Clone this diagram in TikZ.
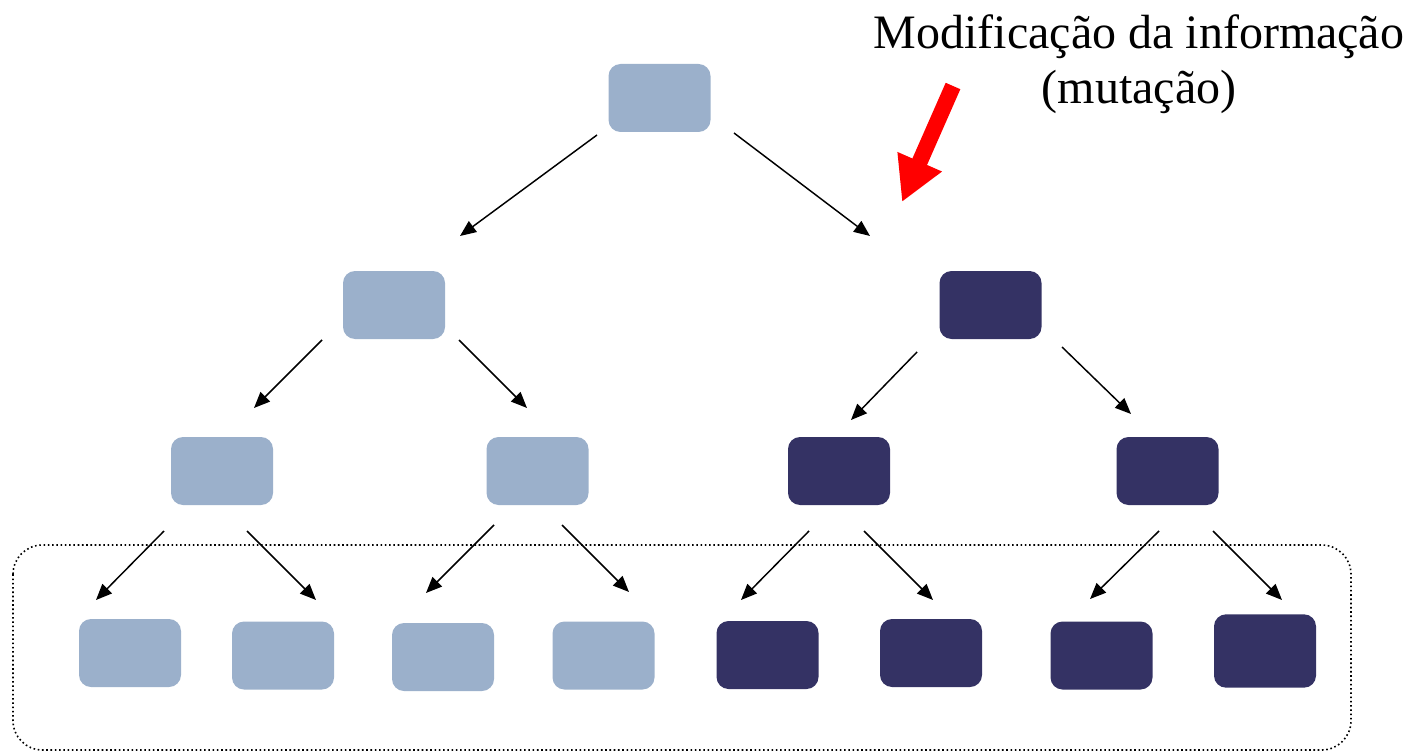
\documentclass[tikz,border=0pt]{standalone}
\usepackage{fontspec}
\setmainfont{Liberation Serif}
\usetikzlibrary{arrows.meta}
\definecolor{lightblue}{HTML}{9BB0CB}
\definecolor{darkblue}{HTML}{343264}
\definecolor{mutred}{HTML}{FF0000}
\begin{document}
\begin{tikzpicture}[x=0.75pt,y=-0.75pt,
  cell/.style={rectangle, rounded corners=9pt, minimum width=76.5pt, minimum height=51pt, inner sep=0pt, draw=none},
  orig/.style={cell, fill=lightblue},
  mut/.style={cell, fill=darkblue},
  link/.style={line width=1.1pt, -{Triangle[length=12pt,width=10pt]}},
  frame/.style={dotted, line width=1.2pt, rounded corners=22pt}
]
\useasboundingbox (0,0) rectangle (1416,752);

% generation 0
\node[orig] (g0) at (659.5,98) {};
% generation 1
\node[orig] (g1a) at (394,305) {};
\node[mut]  (g1b) at (990.5,305) {};
% generation 2
\node[orig] (g2a) at (222,471) {};
\node[orig] (g2b) at (537.5,471) {};
\node[mut]  (g2c) at (839,471) {};
\node[mut]  (g2d) at (1167.5,471) {};
% generation 3
\node[orig] (g3a) at (130,653) {};
\node[orig] (g3b) at (283,655.5) {};
\node[orig] (g3c) at (443,657) {};
\node[orig] (g3d) at (603.5,655.5) {};
\node[mut]  (g3e) at (767.5,655) {};
\node[mut]  (g3f) at (931,653) {};
\node[mut]  (g3g) at (1101.5,655.5) {};
\node[mut,minimum height=55pt] (g3h) at (1265,651) {};

% arrow end points
\coordinate (a1s) at (597,135);  \coordinate (a1e) at (460,236);
\coordinate (a2s) at (734,133);  \coordinate (a2e) at (870,236);
\coordinate (b1s) at (322,340);  \coordinate (b1e) at (254,408);
\coordinate (b2s) at (459,340);  \coordinate (b2e) at (527,408);
\coordinate (b3s) at (917,352);  \coordinate (b3e) at (851,420);
\coordinate (b4s) at (1062,347); \coordinate (b4e) at (1131,414);
\coordinate (c1s) at (164,531);  \coordinate (c1e) at (96,600);
\coordinate (c2s) at (247,531);  \coordinate (c2e) at (316,600);
\coordinate (c3s) at (494,525);  \coordinate (c3e) at (426,593);
\coordinate (c4s) at (562,525);  \coordinate (c4e) at (629,592);
\coordinate (c5s) at (809,531);  \coordinate (c5e) at (741,600);
\coordinate (c6s) at (864,531);  \coordinate (c6e) at (933,600);
\coordinate (c7s) at (1159,531); \coordinate (c7e) at (1090,599);
\coordinate (c8s) at (1213,531); \coordinate (c8e) at (1282,600);

\foreach \a in {a1,a2,b1,b2,b3,b4,c1,c2,c3,c4,c5,c6,c7,c8}
  \draw[link] (\a s) -- (\a e);

% last generation enclosure
\coordinate (fr1) at (13,545);
\coordinate (fr2) at (1351,750);
\draw[frame] (fr1) rectangle (fr2);

% mutation label and pointer
\node[align=center, font=\fontsize{36pt}{41pt}\selectfont] (lbl) at (1139,64)
  {Modificação da informação\\(mutação)};
\coordinate (ms) at (953,86);
\coordinate (me) at (902,202);
\draw[mutred, line width=12pt, -{Triangle[length=33pt,width=34pt]}] (ms) -- (me);
\end{tikzpicture}
\end{document}
